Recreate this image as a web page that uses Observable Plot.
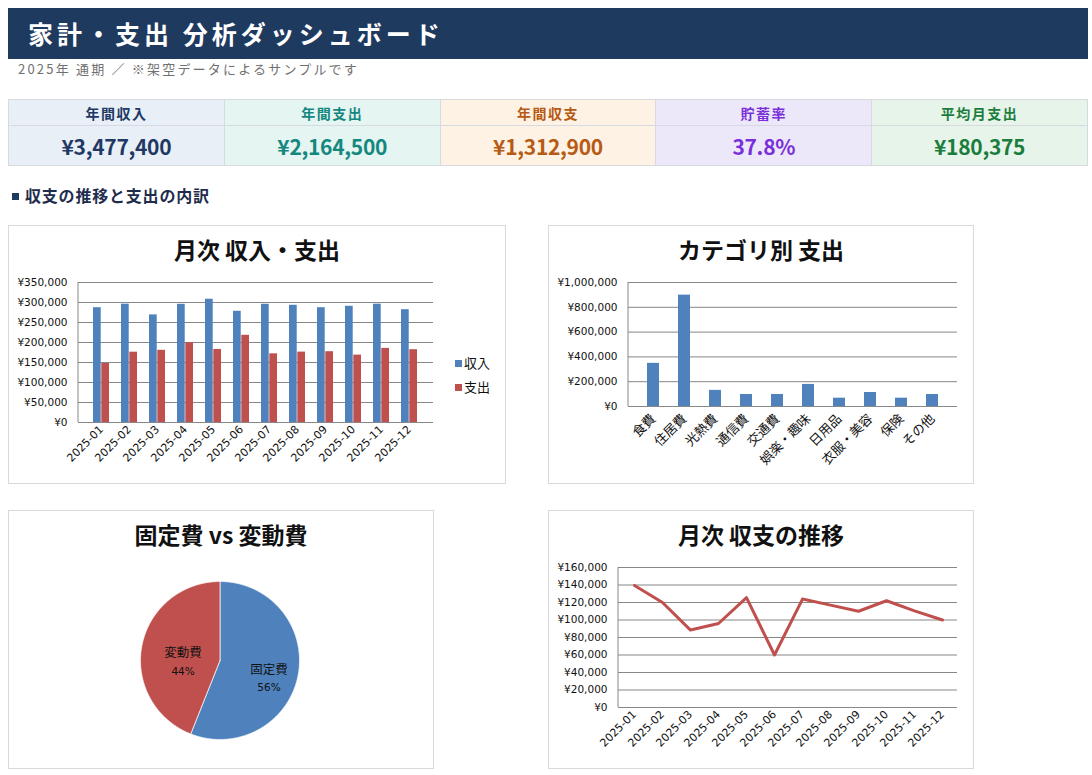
<!DOCTYPE html>
<html lang="ja">
<head>
<meta charset="utf-8">
<title>家計・支出 分析ダッシュボード</title>
<script src="https://cdn.jsdelivr.net/npm/d3@7"></script>
<script src="https://cdn.jsdelivr.net/npm/@observablehq/plot@0.6"></script>
<style>
  html, body { margin: 0; padding: 0; background: #fff; }
  body { font-family: "Noto Sans CJK JP", "Noto Sans", sans-serif; }
  #page { position: relative; width: 1092px; height: 775px; overflow: hidden; }
  .hdr {
    position: absolute; left: 8px; top: 8px; width: 1080px; height: 51px;
    background: #1f3a5f; color: #fff; font-weight: 700; font-size: 25px;
    letter-spacing: 4px; line-height: 50px; padding-left: 20px; box-sizing: border-box;
  }
  .sub {
    position: absolute; left: 18px; top: 59px; font-size: 13px; color: #707070;
    letter-spacing: 2.2px; line-height: 20px;
  }
  table.kpi {
    position: absolute; left: 8px; top: 99px; width: 1080px;
    border-collapse: collapse; table-layout: fixed;
  }
  table.kpi td { border: 1px solid #d7dae1; text-align: center; padding: 0; }
  table.kpi tr.lab td { height: 25px; font-size: 14px; font-weight: 700; letter-spacing: 1.5px; }
  table.kpi tr.val td { height: 39px; font-size: 21px; font-weight: 700; letter-spacing: -0.3px; }
  .sec {
    position: absolute; left: 12px; top: 183px; font-size: 16px; font-weight: 700;
    color: #1f2d4d; line-height: 24px; letter-spacing: 0.8px;
  }
  .sec i { display: inline-block; width: 7px; height: 7px; background: #1f3a5f; margin-right: 6px; vertical-align: 2px; }
  .panel { position: absolute; border: 1px solid #d9d9d9; box-sizing: border-box; background: #fff; }
  .panel .ttl {
    position: absolute; left: 0; right: 0; top: 7px; text-align: center;
    font-size: 23px; font-weight: 700; color: #111; line-height: 32px;
  }
  .panel .chart { position: absolute; left: 0; top: 0; }
  .legend { position: absolute; font-size: 13px; color: #111; line-height: 16px; }
  .legend div { height: 16px; margin-bottom: 8px; white-space: nowrap; }
  .legend span.sw { display: inline-block; width: 7px; height: 7px; margin-right: 2px; vertical-align: 1px; }
  #c1 [aria-label^="x-axis"] text, #c4 [aria-label^="x-axis"] text { font-size: 11px; }
  #c2 [aria-label^="x-axis"] text { font-size: 13px; font-family: "Noto Sans CJK JP", sans-serif; }
</style>
</head>
<body>
<div id="page">
  <div class="hdr">家計・支出 分析ダッシュボード</div>
  <div class="sub">2025年 通期 ／ ※架空データによるサンプルです</div>
  <table class="kpi" id="kpi"></table>
  <div class="sec"><i></i>収支の推移と支出の内訳</div>

  <div class="panel" style="left:8px;top:225px;width:498px;height:259px">
    <div class="chart" id="c1"></div>
    <div class="ttl">月次 収入・支出</div>
    <div class="legend" id="lg1" style="left:446px;top:129px"></div>
  </div>
  <div class="panel" style="left:548px;top:225px;width:426px;height:259px">
    <div class="chart" id="c2"></div>
    <div class="ttl">カテゴリ別 支出</div>
  </div>
  <div class="panel" style="left:8px;top:510px;width:426px;height:259px">
    <div class="chart" id="c3"></div>
    <div class="ttl">固定費 vs 変動費</div>
  </div>
  <div class="panel" style="left:548px;top:510px;width:426px;height:259px">
    <div class="chart" id="c4"></div>
    <div class="ttl">月次 収支の推移</div>
  </div>
</div>

<script>
// ---- data ----
const months = ["2025-01", "2025-02", "2025-03", "2025-04", "2025-05", "2025-06",
                "2025-07", "2025-08", "2025-09", "2025-10", "2025-11", "2025-12"];
const income  = [287000, 295800, 269000, 295500, 308200, 278000, 295600, 293000, 287000, 290500, 295800, 282000];
const expense = [147500, 175800, 180500, 199500, 182700, 218000, 171700, 176000, 177000, 168500, 185300, 182000];
const net     = [139500, 120000,  88500,  96000, 125500,  60000, 123900, 117000, 110000, 122000, 110500, 100000];

const seriesNames = ["収入", "支出"];

const categories = ["食費", "住居費", "光熱費", "通信費", "交通費", "娯楽・趣味", "日用品", "衣服・美容", "保険", "その他"];
const categoryAmounts = [348000, 898000, 130000, 97000, 97000, 178000, 67000, 113000, 67000, 97000];

const costTypes = ["固定費", "変動費"];
const costShares = [56, 44];

const monthlyTicks  = [0, 50000, 100000, 150000, 200000, 250000, 300000, 350000];
const categoryTicks = [0, 200000, 400000, 600000, 800000, 1000000];
const netTicks      = [0, 20000, 40000, 60000, 80000, 100000, 120000, 140000, 160000];

const kpiLabels = ["年間収入", "年間支出", "年間収支", "貯蓄率", "平均月支出"];

// ---- styles ----
const BLUE = "#4f81bd", RED = "#c0504d", GRID = "#878787";
const kpiBg   = ["#e9eff7", "#e5f5f2", "#fdf2e4", "#ece8fa", "#e7f4ea"];
const kpiInk  = ["#1f3864", "#14877f", "#b65a14", "#7a30d8", "#1b7d3d"];
const tickFont = {fontFamily: "'DejaVu Sans', 'Noto Sans CJK JP', sans-serif", fontSize: "10.5px", color: "#111", background: "transparent", overflow: "visible"};
const yen = d => "¥" + d3.format(",")(d);

// ---- KPI strip ----
const totalIncome = Math.round(d3.sum(income));
const totalExpense = Math.round(d3.sum(expense));
const totalNet = Math.round(d3.sum(net));
const kpiValues = [
  yen(totalIncome),
  yen(totalExpense),
  yen(totalNet),
  d3.format(".1f")(totalNet / totalIncome * 100) + "%",
  yen(Math.round(totalExpense / months.length))
];
const kpi = d3.select("#kpi");
kpi.append("tr").attr("class", "lab").selectAll("td").data(kpiLabels).join("td")
  .style("background", (d, i) => kpiBg[i]).style("color", (d, i) => kpiInk[i]).text(d => d);
kpi.append("tr").attr("class", "val").selectAll("td").data(kpiValues).join("td")
  .style("background", (d, i) => kpiBg[i]).style("color", (d, i) => kpiInk[i]).text(d => d);

// vertical value-axis line along the left edge of the plot area
function valueAxisLine(index, scales, values, dims) {
  const l = document.createElementNS("http://www.w3.org/2000/svg", "line");
  l.setAttribute("x1", dims.marginLeft);
  l.setAttribute("x2", dims.marginLeft);
  l.setAttribute("y1", dims.marginTop);
  l.setAttribute("y2", dims.height - dims.marginBottom);
  l.setAttribute("stroke", GRID);
  return l;
}

// ---- 月次 収入・支出 (grouped columns) ----
{
  const W = 496, H = 257, ml = 69, mr = 72, pad = 0.42;
  const step = (W - ml - mr) / (months.length - pad + 2 * pad);
  const half = step * (1 - pad) / 2;
  const chart = Plot.plot({
    width: W, height: H, marginLeft: ml, marginRight: mr, marginTop: 56, marginBottom: 61,
    style: tickFont,
    x: {domain: months, padding: pad, tickSize: 0, tickRotate: -45, tickPadding: 5, label: null},
    y: {domain: [0, 350000], ticks: monthlyTicks, tickSize: 0, tickPadding: 11, tickFormat: yen, label: null},
    marks: [
      Plot.ruleY(monthlyTicks, {stroke: GRID, strokeWidth: 1}),
      valueAxisLine,
      Plot.barY(months, {x: d => d, y1: 0, y2: (d, i) => income[i], fill: BLUE, insetRight: half}),
      Plot.barY(months, {x: d => d, y1: 0, y2: (d, i) => expense[i], fill: RED, insetLeft: half})
    ]
  });
  document.getElementById("c1").append(chart);
  const lg = d3.select("#lg1");
  const swatch = [BLUE, RED];
  seriesNames.forEach((n, i) => {
    const row = lg.append("div");
    row.append("span").attr("class", "sw").style("background", swatch[i]);
    row.append("span").text(n);
  });
}

// ---- カテゴリ別 支出 ----
{
  const chart = Plot.plot({
    width: 424, height: 257, marginLeft: 79, marginRight: 16, marginTop: 56, marginBottom: 77,
    style: tickFont,
    x: {domain: categories, padding: 0.6, tickSize: 0, tickRotate: -45, tickPadding: 10, label: null},
    y: {domain: [0, 1000000], ticks: categoryTicks, tickSize: 0, tickPadding: 11, tickFormat: yen, label: null},
    marks: [
      Plot.ruleY(categoryTicks, {stroke: GRID, strokeWidth: 1}),
      valueAxisLine,
      Plot.barY(categories, {x: d => d, y1: 0, y2: (d, i) => categoryAmounts[i], fill: BLUE})
    ]
  });
  document.getElementById("c2").append(chart);
}

// ---- 固定費 vs 変動費 (pie) ----
{
  const arcs = d3.pie().sort(null).value(d => d)(costShares);
  // slice outlines in unit coordinates, clockwise from 12 o'clock
  const outline = arcs.flatMap((a, k) => {
    const n = Math.ceil((a.endAngle - a.startAngle) / 0.01);
    const pts = [{type: costTypes[k], x: 0, y: 0}];
    for (let j = 0; j <= n; ++j) {
      const t = a.startAngle + (a.endAngle - a.startAngle) * j / n;
      pts.push({type: costTypes[k], x: Math.sin(t), y: Math.cos(t)});
    }
    pts.push({type: costTypes[k], x: 0, y: 0});
    return pts;
  });
  const labelR = 0.55;
  const labels = arcs.map((a, k) => {
    const m = (a.startAngle + a.endAngle) / 2;
    return {type: costTypes[k], share: costShares[k], x: labelR * Math.sin(m), y: labelR * Math.cos(m)};
  });
  const chart = Plot.plot({
    width: 424, height: 257, marginLeft: 131, marginRight: 134, marginTop: 70, marginBottom: 29,
    style: {fontFamily: "'Noto Sans CJK JP', sans-serif", background: "transparent", overflow: "visible"},
    x: {domain: [-1, 1], axis: null},
    y: {domain: [-1, 1], axis: null},
    color: {domain: costTypes, range: [BLUE, RED]},
    marks: [
      Plot.line(outline, {x: "x", y: "y", z: "type", fill: "type", stroke: "white", strokeWidth: 1, strokeOpacity: 0.7}),
      Plot.text(labels, {x: "x", y: "y", text: "type", dx: 6, dy: 1, fontSize: 12.5, fill: "#111"}),
      Plot.text(labels, {x: "x", y: "y", text: d => d.share + "%", dx: 6, dy: 19, fontSize: 10.5, fill: "#111",
                         fontFamily: "'DejaVu Sans', sans-serif"})
    ]
  });
  document.getElementById("c3").append(chart);
}

// ---- 月次 収支の推移 ----
{
  const chart = Plot.plot({
    width: 424, height: 257, marginLeft: 69, marginRight: 16, marginTop: 56, marginBottom: 61,
    style: tickFont,
    x: {type: "point", domain: months, padding: 0.5, tickSize: 0, tickRotate: -45, tickPadding: 5, label: null},
    y: {domain: [0, 160000], ticks: netTicks, tickSize: 0, tickPadding: 11, tickFormat: yen, label: null},
    marks: [
      Plot.ruleY(netTicks, {stroke: GRID, strokeWidth: 1}),
      valueAxisLine,
      Plot.line(months, {x: d => d, y: (d, i) => net[i], stroke: RED, strokeWidth: 3, strokeLinejoin: "round"})
    ]
  });
  document.getElementById("c4").append(chart);
}
</script>
</body>
</html>
